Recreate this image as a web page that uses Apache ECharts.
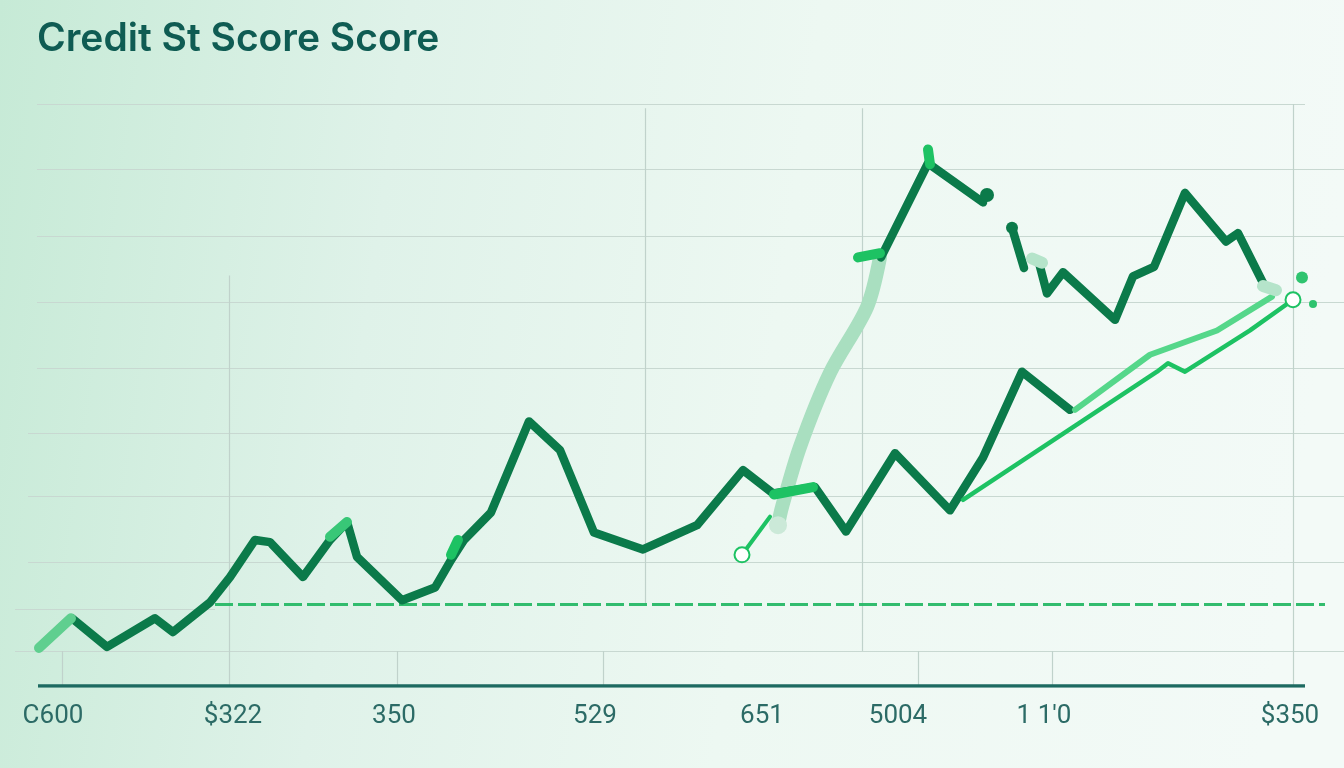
<!DOCTYPE html>
<html><head><meta charset="utf-8">
<script src="https://cdn.jsdelivr.net/npm/echarts@6/dist/echarts.min.js"></script>
<style>html,body{margin:0;padding:0;width:1344px;height:768px;overflow:hidden}#c{width:1344px;height:768px}</style>
</head><body><div id="c"></div><script>
// ---- data (x: months, y: score) ----
const titleText = 'Credit St Score Score';
const tickPositions = [1.3, 19.3, 35.4, 55.5, 72.2, 85.8, 100.4, 125.0];
const tickLabels = ['C600', '$322', '350', '529', '651', '5004', "1 1'0", '$350'];

const mainTrendA = [[3.2,364],[6.7,337],[11.5,364],[13.3,351],[17.0,379],[19.0,403],[21.5,438],[23.0,436],[26.3,403],[29.0,438],[30.7,455],[31.7,422],[36.2,381],[39.5,393],[41.1,419],[42.4,438],[45.1,464],[48.9,550],[52.0,523],[55.4,445],[60.3,429],[65.7,452],[70.3,504],[73.3,482],[77.5,488],[80.6,446],[85.5,520],[91.0,466],[94.3,516],[98.2,597],[103.0,561]];
const mainTrendB = [[84.1,705],[88.8,794],[94.3,757]];
const mainTrendC = [[97.2,733],[98.4,695]];
const mainTrendD = [[99.9,700],[100.7,671],[102.3,691],[107.5,646],[109.3,687],[111.4,696],[114.5,766],[118.6,720],[119.8,728],[122.3,681]];
const brightTrend = [[92.3,476],[111.7,597],[112.8,605],[114.5,597],[121.0,636],[125.3,665]];
const lightTrend = [[103.5,561],[111.0,613],[117.7,636],[123.2,668]];
const paleTrend = [[84.0,705],[82.7,658],[79.0,596],[76.0,526],[74.2,469],[73.8,452]];
const hollowTrend = [[70.2,424],[73.0,460]];
const accentMarks = [[[29.0,441],[30.7,455]],[[73.4,481],[77.3,488]],[[81.8,705],[84.0,709]],[[88.8,807],[89.0,793]],[[41.1,424],[41.8,438]]];
const startMark = [[-0.1,336],[3.1,364]];
const paleMarks = [[[99.2,704],[100.2,700]],[[122.3,678],[123.6,674]]];
const darkDots = [[94.7,764],[97.2,733]];
const brightDots = [[126.2,686],[127.3,661]];
const baselineScore = 377.5, baselineFrom = 17.5, baselineTo = 128.5;
const gridLevels = [850,788,725,663,600,539,479,417,373,333];
const gridStarts = [-0.3,-0.3,-0.3,-0.3,-0.3,-1.2,-1.2,-1.2,-2.5,-2.5];
const gridEnds = [126.5,130.4,130.4,130.4,130.4,130.4,130.4,130.4,17.5,130.4];
const verticalMarks = [2.2,18.9,35.7,56.3,60.5,82.2,87.8,101.2,125.3];
const verticalTops = [333,688,333,333,846,846,333,333,850];
const verticalBottoms = [300,300,300,300,377,333,300,300,300];
const axisFrom = -0.2, axisTo = 126.5, axisScore = 300;

// ---- build ----
const DARK = '#0b7a4a', BRIGHT = '#1dc263', LIGHT = '#55d78a', PALE = '#a9dfc0';
const gridSegs = gridLevels.map((v,i)=>({coords:[[gridStarts[i],v],[gridEnds[i],v]]}));
const vertSegs = verticalMarks.map((x,i)=>({coords:[[x,verticalTops[i]],[x,verticalBottoms[i]]]}));
function seg(name, data, color, width, z, extra){
  return Object.assign({type:'line', name, data, z, symbol:'none', silent:true, animation:false,
    lineStyle:{color, width, cap:'round', join:'round'}}, extra||{});
}
const hollowItem = {symbol:'emptyCircle', symbolSize:15, itemStyle:{color:BRIGHT, borderColor:BRIGHT, borderWidth:4}};
const series = [
  {type:'lines', coordinateSystem:'cartesian2d', z:1, silent:true, animation:false,
   data: gridSegs, lineStyle:{color:'#c8d8d1', width:1.2, opacity:1}},
  {type:'lines', coordinateSystem:'cartesian2d', z:1, silent:true, animation:false,
   data: vertSegs, lineStyle:{color:'#c0d2cb', width:1.2, opacity:1}},
  {type:'lines', coordinateSystem:'cartesian2d', z:2, silent:true, animation:false,
   data: [{coords:[[axisFrom,axisScore],[axisTo,axisScore]]}], lineStyle:{color:'#1d6a61', width:3.5, opacity:1}},
  {type:'lines', coordinateSystem:'cartesian2d', z:3, silent:true, animation:false,
   data: [{coords:[[baselineFrom,baselineScore],[baselineTo,baselineScore]]}], lineStyle:{color:'#27b866', width:3, opacity:0.95, type:[18,5]}},
  seg('pale', paleTrend.map((p,i)=> i===paleTrend.length-1 ? {value:p, symbol:'circle', symbolSize:18, itemStyle:{color:'#cbe9d8'}} : p), PALE, 14, 4, {smooth:0.3, showSymbol:true}),
  seg('mainA', mainTrendA, DARK, 8.5, 5),
  seg('mainB', mainTrendB, DARK, 8.5, 5),
  seg('mainC', mainTrendC, DARK, 8.5, 5),
  seg('mainD', mainTrendD, DARK, 8.5, 5),
  seg('light', lightTrend, LIGHT, 6, 6),
  seg('bright', brightTrend.map((p,i)=> i===brightTrend.length-1 ? Object.assign({value:p}, hollowItem) : p), BRIGHT, 4.5, 7, {showSymbol:true}),
  seg('hollow', hollowTrend.map((p,i)=> i===0 ? Object.assign({value:p}, hollowItem) : p), BRIGHT, 4, 7, {showSymbol:true}),
  seg('start', startMark, '#5fcf8f', 10, 6),
];
accentMarks.forEach((m,i)=>series.push(seg('accent'+i, m, i===0 ? '#38c777' : BRIGHT, 10, 8)));
paleMarks.forEach((m,i)=>series.push(seg('paleMark'+i, m, '#b5e4ca', 12, 8)));
series.push({type:'scatter', data: darkDots.map((p,i)=>({value:p, symbolSize: i===0?14:12})), z:9, silent:true, animation:false, itemStyle:{color:DARK, opacity:1}});
series.push({type:'scatter', data: brightDots.map((p,i)=>({value:p, symbolSize: i===0?12:8})), z:9, silent:true, animation:false, itemStyle:{color:'#2fc46f', opacity:1}});

const chart = echarts.init(document.getElementById('c'), null, {renderer:'canvas'});
chart.setOption({
  animation:false,
  backgroundColor:{type:'linear', x:0, y:0, x2:1, y2:0.25, colorStops:[
    {offset:0, color:'#c6ead6'}, {offset:0.3, color:'#dff2e9'}, {offset:0.6, color:'#edf8f2'}, {offset:1, color:'#f3faf7'}]},
  title:{text:titleText, left:32, top:15, textStyle:{fontFamily:'Inter', fontWeight:600, fontSize:39, color:'#0f5c53'}},
  grid:{left:0, right:0, top:104, bottom:82, containLabel:false},
  xAxis:{type:'value', min:-4, max:130.4, splitLine:{show:false}, axisLine:{show:false}, axisTick:{show:false},
    axisLabel:{customValues:tickPositions, margin:17, fontFamily:'Roboto', fontSize:26, color:'#2c6b66',
      formatter:(v)=>{let k=0,b=1e9;tickPositions.forEach((t,i)=>{if(Math.abs(t-v)<b){b=Math.abs(t-v);k=i;}});return tickLabels[k];}}},
  yAxis:{type:'value', min:300, max:850, show:false, splitLine:{show:false}},
  series
});
</script></body></html>
